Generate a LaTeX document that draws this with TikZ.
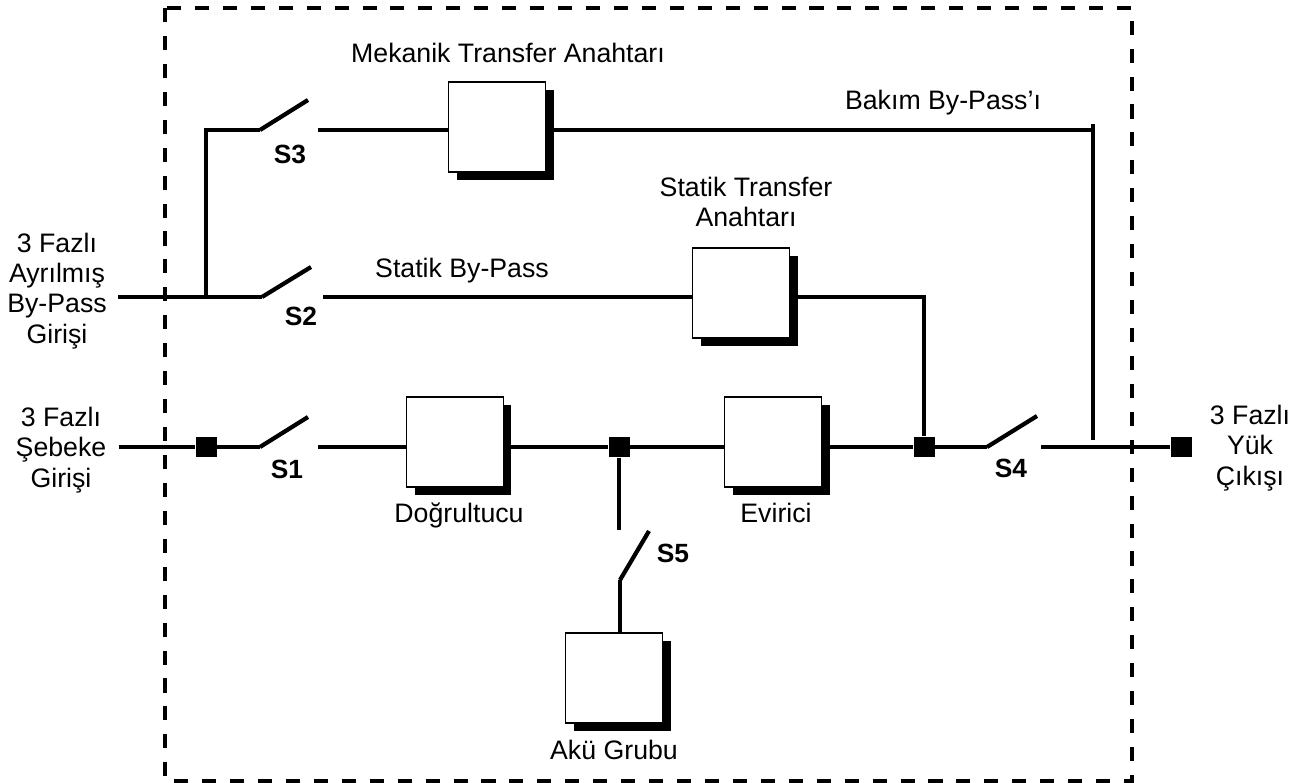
\documentclass[tikz,border=0pt]{standalone}
\usepackage{fontspec}
\setmainfont{Liberation Sans}
\usetikzlibrary{positioning,calc}

\begin{document}
\begin{tikzpicture}[
  x=0.02cm, y=-0.02cm,
  wire/.style={line width=1.9pt},
  blade/.style={line width=2.4pt},
  unit/.style={rectangle, draw, fill=white, line width=1pt, inner sep=0pt, minimum width=1.94cm, minimum height=1.8cm},
  shade/.style={rectangle, fill=black, inner sep=0pt, minimum width=1.94cm, minimum height=1.8cm},
  dot/.style={rectangle, fill=black, inner sep=0pt, minimum size=0.42cm},
  lbl/.style={font=\fontsize{15.2}{17.2}\selectfont, align=center, inner sep=0pt},
  sw/.style={font=\fontsize{15}{17}\selectfont\bfseries, inner sep=0pt}
]
\useasboundingbox (0,0) rectangle (1300,783);

% -----------------------
% Layout parameters
% -----------------------
\def\yC{130}  % S3 line
\def\yB{297}  % S2 line
\def\yA{447}  % S1 line

% -----------------------
% Outer frame
% -----------------------
\coordinate (fA) at (165,8);
\coordinate (fB) at (1132,781);
\draw[line width=2.3pt, dash pattern=on 8pt off 7.9pt] (fA) rectangle (fB);

% -----------------------
% Units (shadow first)
% -----------------------
\node[shade] at (505,135) {};
\node[unit] (mta) at (497,127) {};
\node[shade] at (749,301) {};
\node[unit] (sta) at (741,293) {};
\node[shade] at (781,450) {};
\node[unit] (inv) at (773,442) {};
\node[shade] at (463,450) {};
\node[unit] (rect) at (455,442) {};
\node[shade] at (622,686) {};
\node[unit] (aku) at (614,678) {};

% -----------------------
% Junctions
% -----------------------
\node[dot] (j1) at (206,\yA) {};
\node[dot] (j2) at (619,\yA) {};
\node[dot] (j3) at (924,\yA) {};
\node[dot] (j4) at (1181,\yA) {};

% Switch contacts
\coordinate (s1a) at (260,\yA);  \coordinate (s1b) at (308,417);  \coordinate (s1c) at (318,\yA);
\coordinate (s2a) at (262,\yB);  \coordinate (s2b) at (311,267);  \coordinate (s2c) at (323,\yB);
\coordinate (s3a) at (260,\yC);  \coordinate (s3b) at (308,100);  \coordinate (s3c) at (318,\yC);
\coordinate (s4a) at (987,\yA);  \coordinate (s4b) at (1037,416); \coordinate (s4c) at (1041,\yA);
\coordinate (s5a) at (620,580);  \coordinate (s5b) at (649,531);  \coordinate (s5c) at (619,530);

% Free ends
\coordinate (in1) at (119,\yA);
\coordinate (in2) at (118,\yB);
\coordinate (t2) at (206,\yB);
\coordinate (t3) at (206,\yC);
\coordinate (t4) at (924,\yB);
\coordinate (b1) at (1093,\yC);
\coordinate (b2) at (1093,124);
\coordinate (b3) at (1093,440);

% -----------------------
% Wires
% -----------------------
\draw[wire] (in1) -- (j1);
\draw[wire] (j1) -- (s1a);
\draw[blade] (s1a) -- (s1b);
\draw[wire] (s1c) -- (s1c -| rect.west);
\draw[wire] (rect.east |- j2) -- (j2);
\draw[wire] (j2) -- (j2 -| inv.west);
\draw[wire] (inv.east |- j3) -- (j3);
\draw[wire] (j3) -- (s4a);
\draw[blade] (s4a) -- (s4b);
\draw[wire] (s4c) -- (j4);

\draw[wire] (in2) -- (s2a);
\draw[blade] (s2a) -- (s2b);
\draw[wire] (s2c) -- (s2c -| sta.west);
\draw[wire] (sta.east |- t4) -- (t4) -- (j3);

\draw[wire] (t2) -- (t3) -- (s3a);
\draw[blade] (s3a) -- (s3b);
\draw[wire] (s3c) -- (s3c -| mta.west);
\draw[wire] (mta.east |- b1) -- (b1);
\draw[wire] (b2) -- (b3);

\draw[wire] (j2) -- (s5c);
\draw[blade] (s5a) -- (s5b);
\draw[wire] (s5a) -- (aku.north -| s5a);

% -----------------------
% Labels
% -----------------------
\node[sw] (S1) at (287,469) {S1};
\node[sw] (S2) at (301,316) {S2};
\node[sw] (S3) at (290,154) {S3};
\node[sw] (S4) at (1011,468) {S4};
\node[sw] (S5) at (673,553) {S5};

\node[lbl] (lmta) at (508,53) {Mekanik Transfer Anahtarı};
\node[lbl] (lbak) at (943,103) {Bakım By-Pass’ı};
\node[lbl] (lsta) at (746,202) {Statik Transfer\\Anahtarı};
\node[lbl] (lsbp) at (462,271) {Statik By-Pass};
\node[lbl] (lrec) at (459,515) {Doğrultucu};
\node[lbl] (linv) at (776,513) {Evirici};
\node[lbl] (laku) at (614,750) {Akü Grubu};
\node[lbl] (lin2) at (57,291) {3 Fazlı\\Ayrılmış\\By-Pass\\Girişi};
\node[lbl] (lin1) at (61,450) {3 Fazlı\\Şebeke\\Girişi};
\node[lbl] (lout) at (1250,448) {3 Fazlı\\Yük\\Çıkışı};

\end{tikzpicture}
\end{document}
